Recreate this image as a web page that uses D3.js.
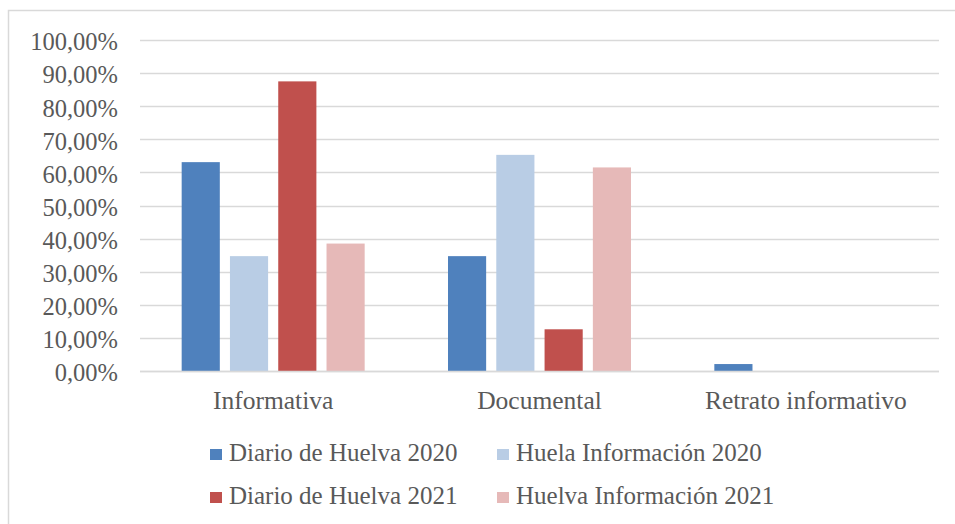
<!DOCTYPE html>
<html>
<head>
<meta charset="utf-8">
<script src="https://cdn.jsdelivr.net/npm/d3@7"></script>
<style>
html,body{margin:0;padding:0;background:#fff;}
svg{display:block;}
text{font-family:"Liberation Serif","DejaVu Serif",serif;fill:#595959;}
</style>
</head>
<body>
<svg id="chart" width="955" height="524"></svg>
<script>
const categories = ["Informativa", "Documental", "Retrato informativo"];
const seriesNames = ["Diario de Huelva 2020", "Huela Información 2020", "Diario de Huelva 2021", "Huelva Información 2021"];
const seriesColors = ["#4F81BD", "#B9CDE5", "#C0504D", "#E6B9B8"];
const diarioHuelva2020 = [63.1, 34.7, 2.1];
const huelvaInfo2020 = [34.7, 65.3, 0];
const diarioHuelva2021 = [87.5, 12.6, 0];
const huelvaInfo2021 = [38.5, 61.5, 0];
const yTicks = [0, 10, 20, 30, 40, 50, 60, 70, 80, 90, 100];
const yTickLabels = ["0,00%", "10,00%", "20,00%", "30,00%", "40,00%", "50,00%", "60,00%", "70,00%", "80,00%", "90,00%", "100,00%"];

const seriesValues = [diarioHuelva2020, huelvaInfo2020, diarioHuelva2021, huelvaInfo2021];
const FONT = '"Liberation Serif","DejaVu Serif",serif';

const svg = d3.select("#chart");
const plot = {left: 140, right: 939, top: 40, bottom: 371};

// outer chart border
svg.append("rect").attr("x", 8.5).attr("y", 10.5).attr("width", 980).attr("height", 540)
  .attr("fill", "#fff").attr("stroke", "#d9d9d9").attr("stroke-width", 1.5);

const y = d3.scaleLinear().domain([0, 100]).range([plot.bottom, plot.top]);
const x0 = d3.scaleBand().domain(categories).range([plot.left, plot.right]).paddingInner(0).paddingOuter(0);
const groupW = 183;
const x1 = d3.scaleBand().domain(d3.range(seriesNames.length))
  .range([(x0.bandwidth() - groupW) / 2, (x0.bandwidth() + groupW) / 2]).paddingInner(0.21);

// gridlines
svg.append("g").selectAll("line").data(yTicks).join("line")
  .attr("x1", plot.left).attr("x2", plot.right)
  .attr("y1", d => Math.round(y(d)) + 0.5).attr("y2", d => Math.round(y(d)) + 0.5)
  .attr("stroke", "#d9d9d9").attr("stroke-width", 1.5);

// y axis labels
const yAxis = d3.axisLeft(y).tickValues(yTicks).tickSize(0).tickPadding(0)
  .tickFormat((d, i) => yTickLabels[i]);
const gy = svg.append("g").attr("transform", "translate(118,0)").call(yAxis);
gy.select(".domain").remove();
gy.selectAll("text").attr("font-size", 24.5).attr("fill", "#595959")
  .attr("font-family", FONT).attr("dy", "0.4em");

// bars
const groups = svg.append("g").selectAll("g").data(categories).join("g")
  .attr("transform", c => `translate(${x0(c)},0)`);
groups.selectAll("rect").data((c, ci) => seriesValues.map((s, si) => ({si, v: s[ci]})))
  .join("rect")
  .attr("x", d => x1(d.si))
  .attr("width", x1.bandwidth())
  .attr("y", d => y(d.v))
  .attr("height", d => y(0) - y(d.v))
  .attr("fill", d => seriesColors[d.si]);

// x axis line and labels
svg.append("line").attr("x1", plot.left).attr("x2", plot.right)
  .attr("y1", Math.round(y(0)) + 0.5).attr("y2", Math.round(y(0)) + 0.5)
  .attr("stroke", "#d9d9d9").attr("stroke-width", 1.5);
const xAxis = d3.axisBottom(x0).tickSize(0).tickPadding(0);
const gx = svg.append("g").attr("transform", `translate(0,${plot.bottom})`).call(xAxis);
gx.select(".domain").remove();
gx.selectAll("text").attr("font-size", 25.5).attr("fill", "#595959")
  .attr("font-family", FONT).attr("dy", null).attr("y", 38);

// legend
const legendPos = [[210, 449], [497, 449], [210, 492], [497, 492]];
const lg = svg.append("g").selectAll("g").data(seriesNames).join("g")
  .attr("transform", (d, i) => `translate(${legendPos[i][0]},${legendPos[i][1]})`);
lg.append("rect").attr("x", 0).attr("y", 0).attr("width", 12).attr("height", 11)
  .attr("fill", (d, i) => seriesColors[i]);
lg.append("text").attr("x", 19).attr("y", 12).attr("font-size", 25).text(d => d);
</script>
</body>
</html>
